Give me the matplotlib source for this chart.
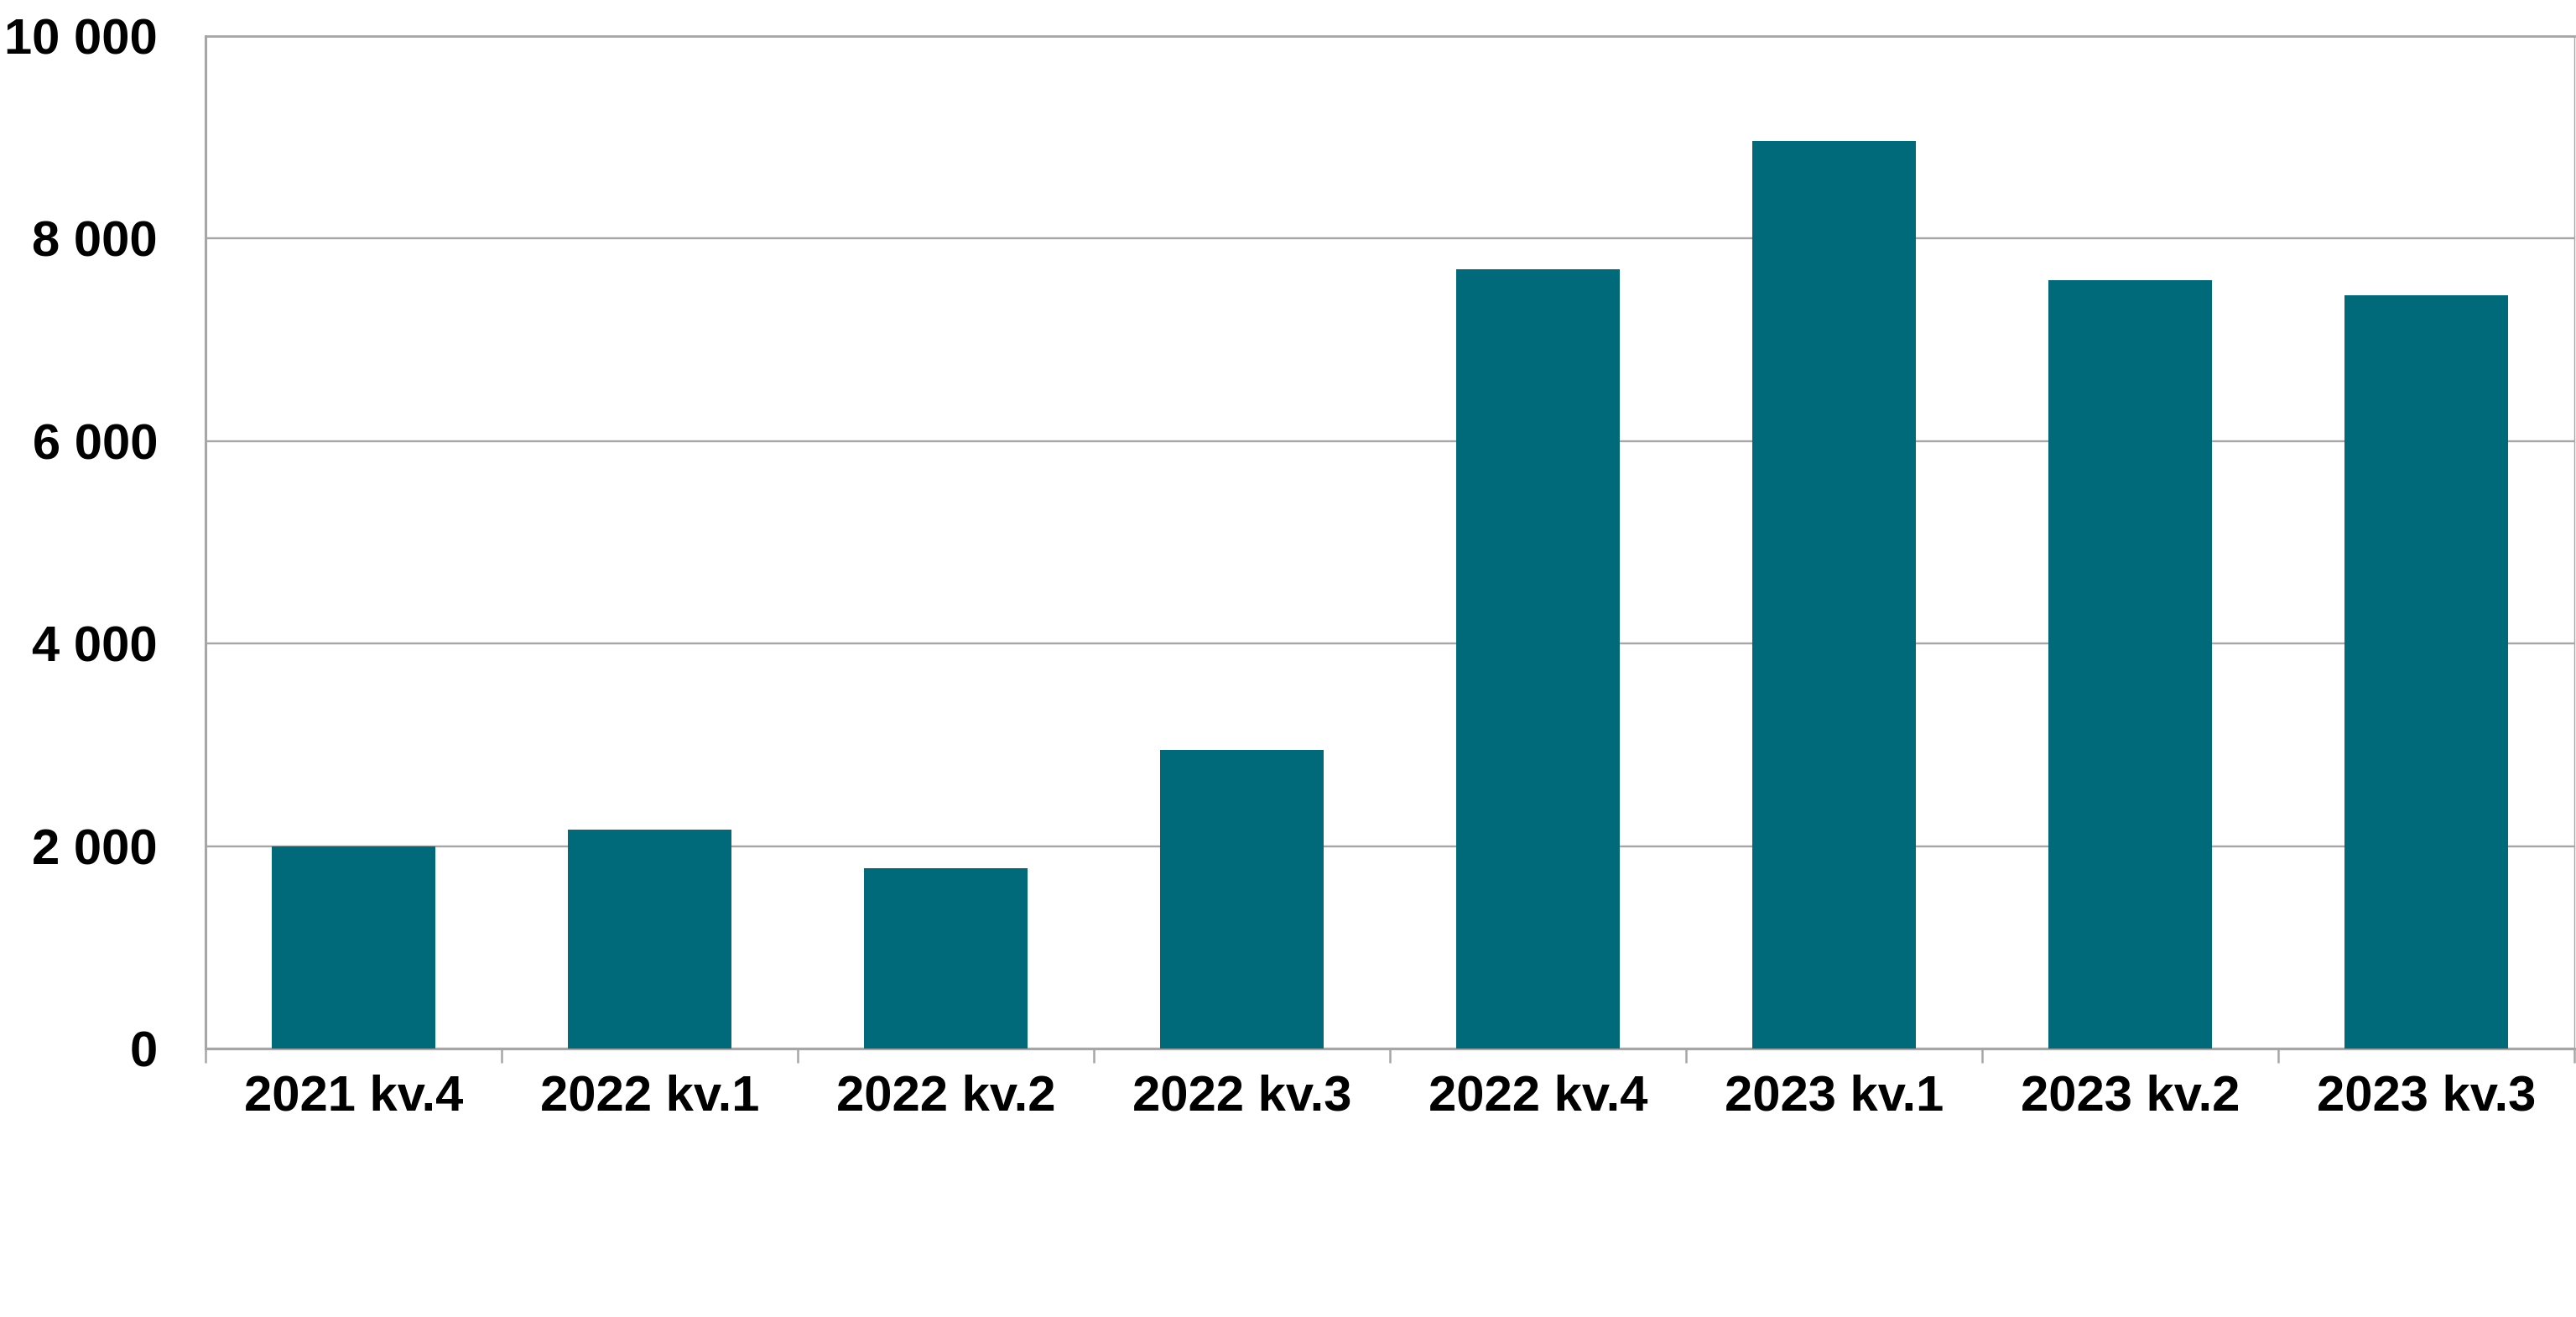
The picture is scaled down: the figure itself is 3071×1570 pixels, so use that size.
import matplotlib
matplotlib.use("Agg")
import matplotlib.pyplot as plt
from matplotlib.ticker import FixedLocator, FuncFormatter, MultipleLocator
import numpy as np

categories = ["2021 kv.4", "2022 kv.1", "2022 kv.2", "2022 kv.3",
              "2022 kv.4", "2023 kv.1", "2023 kv.2", "2023 kv.3"]
values = [1995, 2162, 1781, 2947, 7697, 8964, 7589, 7436]
yticks = [0, 2000, 4000, 6000, 8000, 10000]

bar_color = "#016A7A"
grid_color = "#A6A6A6"

plt.rcParams['font.family'] = ['Liberation Sans', 'DejaVu Sans']

fig = plt.figure(figsize=(30.71, 15.70), dpi=100)
ax = fig.add_axes([245/3071, 1 - 1250/1570, (3069-245)/3071, (1250-43)/1570])

x = np.arange(len(categories))
ax.bar(x, values, width=0.555, color=bar_color, zorder=3)

ax.set_xlim(-0.5, len(categories) - 0.5)
ax.set_ylim(0, 10000)
ax.set_yticks(yticks)
ax.yaxis.set_major_formatter(FuncFormatter(lambda v, p: f"{int(v):,}".replace(",", " ")))
ax.set_xticks(x)
ax.set_xticklabels(categories)
ax.xaxis.set_minor_locator(FixedLocator(np.arange(-0.5, len(categories) + 0.5, 1)))

ax.grid(axis='y', color=grid_color, linewidth=1.7, zorder=0)
ax.set_axisbelow(True)

for side in ['left', 'bottom']:
    ax.spines[side].set_color(grid_color)
    ax.spines[side].set_linewidth(2.2)
ax.spines['top'].set_color(grid_color)
ax.spines['top'].set_linewidth(2.0)
ax.spines['right'].set_color(grid_color)
ax.spines['right'].set_linewidth(1.0)

ax.tick_params(axis='y', length=0, pad=41, labelsize=43)
ax.tick_params(axis='x', which='major', length=0, pad=22, labelsize=43)
ax.tick_params(axis='x', which='minor', length=12, width=1.8, color=grid_color, direction='out')
for lbl in ax.get_xticklabels() + ax.get_yticklabels():
    lbl.set_fontweight('bold')
    lbl.set_color('black')

fig.savefig("out.png", dpi=100, facecolor='white')
